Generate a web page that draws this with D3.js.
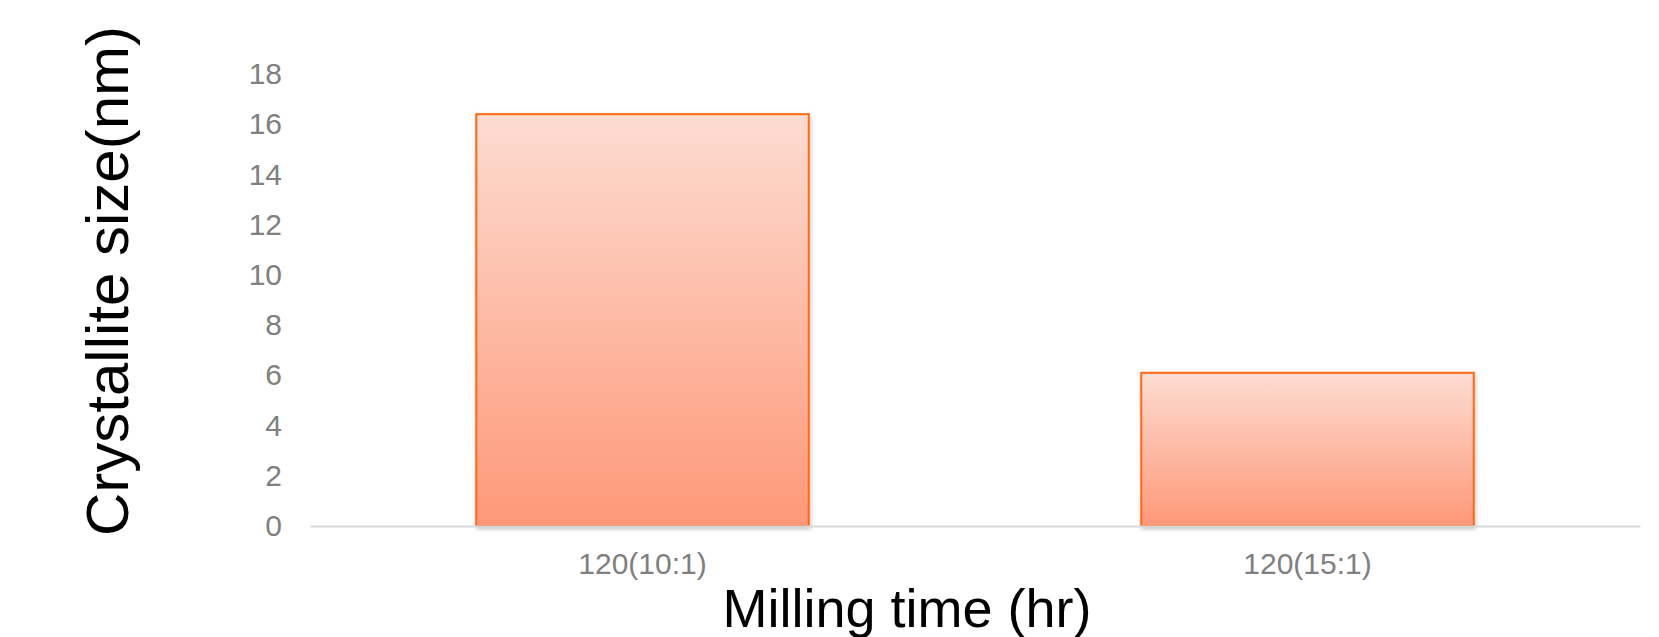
<!DOCTYPE html>
<html>
<head>
<meta charset="utf-8">
<script src="https://cdn.jsdelivr.net/npm/d3@7"></script>
<style>
  html, body { margin: 0; padding: 0; background: #ffffff; }
  svg { display: block; font-family: "Liberation Sans", Arial, sans-serif; }
</style>
</head>
<body>
<svg id="chart" width="1659" height="637"></svg>
<script>
// Crystallite size by milling condition
const categories = ["120(10:1)", "120(15:1)"];
const sizes = [16.4, 6.1];
const yTicks = [0, 2, 4, 6, 8, 10, 12, 14, 16, 18];

const svg = d3.select("#chart");
const margin = { left: 310, right: 19, top: 74, bottom: 111 };
const W = 1659, H = 637;
const plotW = W - margin.left - margin.right;
const plotH = H - margin.top - margin.bottom;

const g = svg.append("g").attr("transform", `translate(${margin.left},${margin.top})`);

const x = d3.scaleBand().domain(categories).range([0, plotW]).paddingInner(0.5).paddingOuter(0.25);
const y = d3.scaleLinear().domain([0, 18]).range([plotH, 0]);

// per-bar vertical gradient, light at top, deeper salmon at base
const defs = svg.append("defs");
const grad = defs.append("linearGradient")
  .attr("id", "barFill").attr("x1", 0).attr("y1", 0).attr("x2", 0).attr("y2", 1);
grad.append("stop").attr("offset", "0%").attr("stop-color", "#fddcd2");
grad.append("stop").attr("offset", "100%").attr("stop-color", "#fe9878");

const shadow = defs.append("filter").attr("id", "barShadow")
  .attr("x", "-5%").attr("y", "-5%").attr("width", "115%").attr("height", "115%");
shadow.append("feDropShadow").attr("dx", 1).attr("dy", 2).attr("stdDeviation", 2)
  .attr("flood-color", "#000").attr("flood-opacity", 0.25);

// y axis: labels only
const yAxis = g.append("g").call(d3.axisLeft(y).tickValues(yTicks).tickSize(0).tickPadding(28));
yAxis.select(".domain").remove();
yAxis.selectAll("text").attr("fill", "#808080").attr("font-size", 30)
  .attr("font-family", "'Liberation Sans', Arial, sans-serif");

// bars
g.selectAll("rect.bar").data(categories).join("rect")
  .attr("class", "bar")
  .attr("x", d => x(d))
  .attr("width", x.bandwidth())
  .attr("y", (d, i) => y(sizes[i]))
  .attr("height", (d, i) => plotH - y(sizes[i]))
  .attr("fill", "url(#barFill)")
  .attr("stroke", "#ff6a14")
  .attr("stroke-width", 2)
  .attr("filter", "url(#barShadow)");

// x axis baseline and category labels
const xAxis = g.append("g").attr("transform", `translate(0,${plotH})`)
  .call(d3.axisBottom(x).tickSize(0).tickPadding(27));
xAxis.select(".domain").attr("stroke", "#d9d9d9").attr("stroke-width", 2);
xAxis.selectAll("text").attr("fill", "#808080").attr("font-size", 30)
  .attr("font-family", "'Liberation Sans', Arial, sans-serif");

// axis titles
svg.append("text")
  .attr("x", 907).attr("y", 627)
  .attr("text-anchor", "middle")
  .attr("font-size", 54)
  .attr("fill", "#000")
  .text("Milling time (hr)");

svg.append("text")
  .attr("transform", "translate(128,281) rotate(-90)")
  .attr("text-anchor", "middle")
  .attr("font-size", 60)
  .attr("fill", "#000")
  .text("Crystallite size(nm)");
</script>
</body>
</html>
